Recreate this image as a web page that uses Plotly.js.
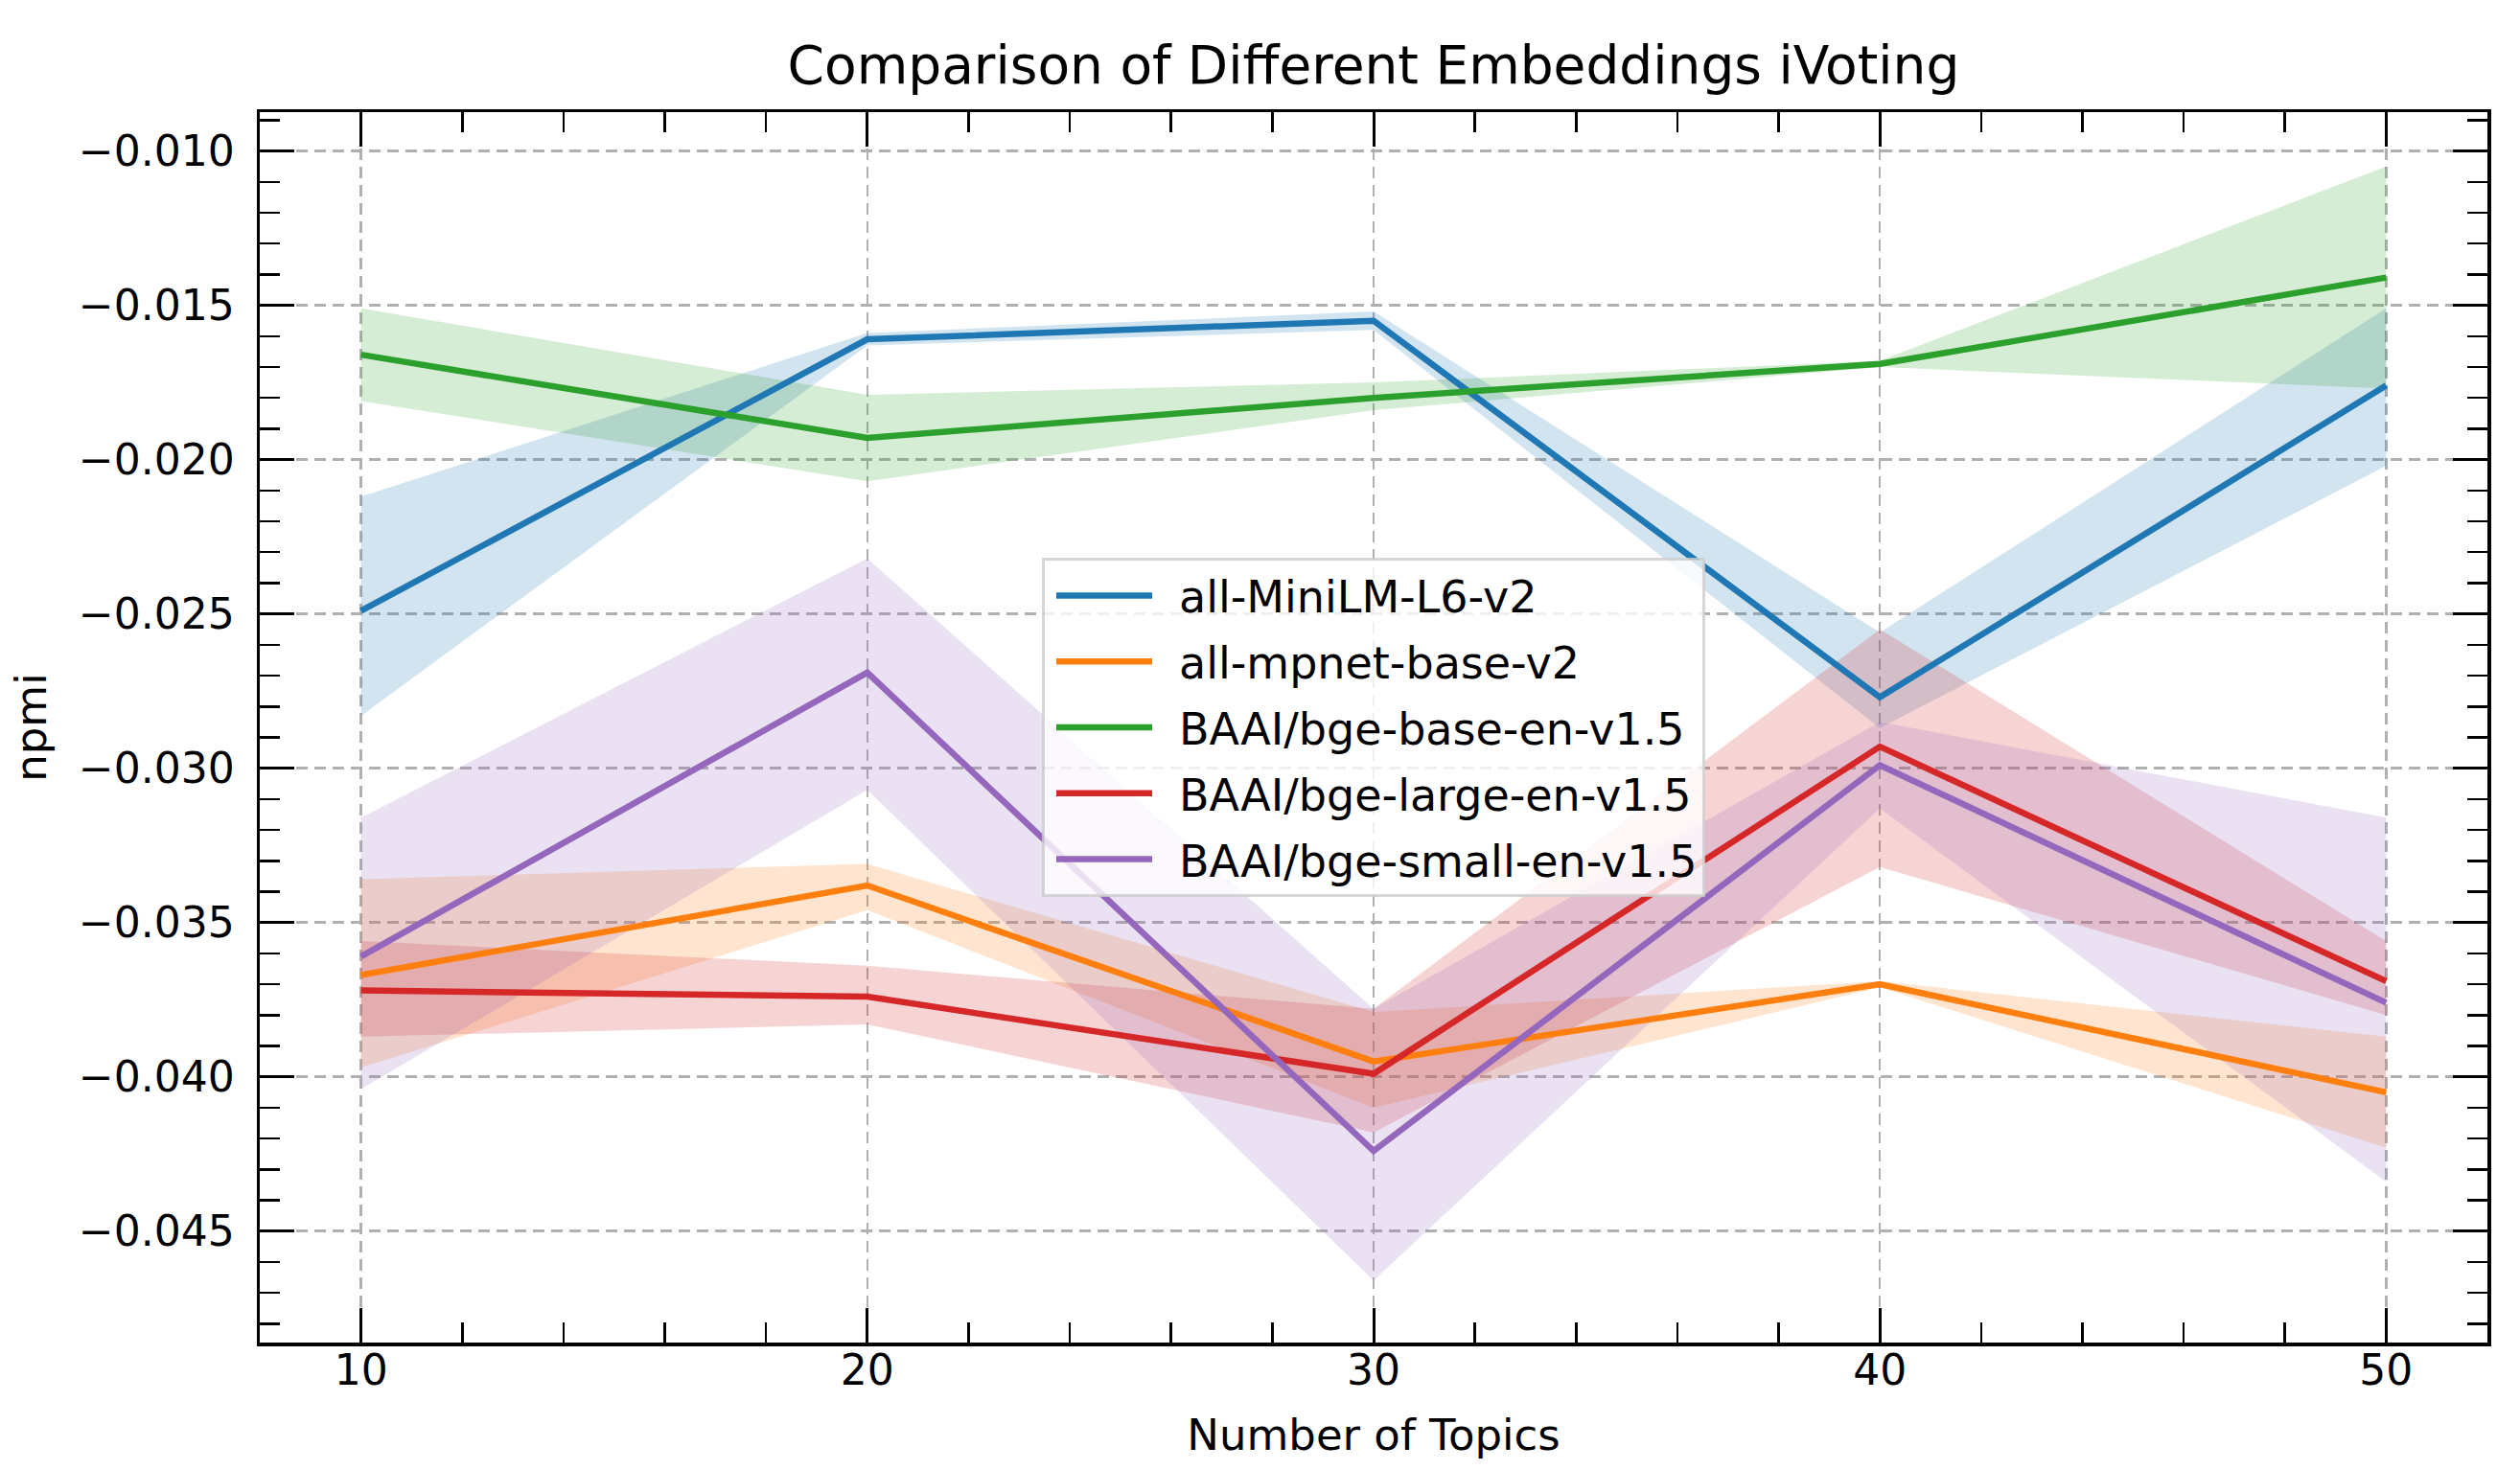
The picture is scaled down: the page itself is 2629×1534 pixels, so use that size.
<!DOCTYPE html>
<html>
<head>
<meta charset="utf-8">
<script src="https://cdn.plot.ly/plotly-3.0.1.min.js"></script>
<style>html,body{margin:0;padding:0;background:#fff;}#chart{width:2629px;height:1534px;}</style>
</head>
<body>
<div id="chart"></div>
<script>
// Number of topics (x)
const topics = [10, 20, 30, 40, 50];

// Series names (legend order)
const models = ["all-MiniLM-L6-v2", "all-mpnet-base-v2", "BAAI/bge-base-en-v1.5", "BAAI/bge-large-en-v1.5", "BAAI/bge-small-en-v1.5"];

// Mean npmi per model
const miniMean  = [-0.0249, -0.0161, -0.0155, -0.0277, -0.0176];
const mpnetMean = [-0.0367, -0.0338, -0.0395, -0.0370, -0.0405];
const baseMean  = [-0.0166, -0.0193, -0.0180, -0.0169, -0.0141];
const largeMean = [-0.0372, -0.0374, -0.0399, -0.0293, -0.0369];
const smallMean = [-0.0361, -0.0269, -0.0424, -0.0299, -0.0376];

// Upper band edges
const miniUpper  = [-0.0212, -0.0159, -0.0152, -0.0256, -0.0151];
const mpnetUpper = [-0.0336, -0.0331, -0.0379, -0.0369, -0.0387];
const baseUpper  = [-0.0151, -0.0179, -0.0175, -0.0168, -0.0105];
const largeUpper = [-0.0356, -0.0364, -0.0378, -0.0255, -0.0356];
const smallUpper = [-0.0316, -0.0232, -0.0378, -0.0285, -0.0316];

// Lower band edges
const miniLower  = [-0.0283, -0.0163, -0.0158, -0.0287, -0.0202];
const mpnetLower = [-0.0397, -0.0346, -0.0410, -0.0371, -0.0423];
const baseLower  = [-0.0181, -0.0207, -0.0184, -0.0170, -0.0177];
const largeLower = [-0.0387, -0.0383, -0.0418, -0.0332, -0.0380];
const smallLower = [-0.0404, -0.0307, -0.0466, -0.0313, -0.0434];

const means  = [miniMean, mpnetMean, baseMean, largeMean, smallMean];
const uppers = [miniUpper, mpnetUpper, baseUpper, largeUpper, smallUpper];
const lowers = [miniLower, mpnetLower, baseLower, largeLower, smallLower];

const colors = ["#1f77b4", "#ff7f0e", "#2ca02c", "#d62728", "#9467bd"];
const fills  = ["rgba(31,119,180,0.2)", "rgba(255,127,14,0.2)", "rgba(44,160,44,0.2)", "rgba(214,39,40,0.2)", "rgba(148,103,189,0.2)"];

const FONT = "DejaVu Sans, Liberation Sans, sans-serif";
const traces = [];
// Bands first (below all lines)
models.forEach((m, i) => {
  traces.push({
    x: topics.concat(topics.slice().reverse()),
    y: uppers[i].concat(lowers[i].slice().reverse()),
    type: "scatter", mode: "lines", fill: "toself",
    fillcolor: fills[i], line: {width: 0, color: fills[i]},
    showlegend: false, hoverinfo: "skip"
  });
});
models.forEach((m, i) => {
  traces.push({
    x: topics, y: means[i], name: "\u2002" + m, legendgroup: m,
    type: "scatter", mode: "lines",
    line: {color: colors[i], width: 6.5}
  });
});

const axisCommon = {
  ticks: "inside", ticklen: 36, tickwidth: 3, tickcolor: "#000",
  showline: true, linecolor: "#000", linewidth: 3.5, mirror: "allticks",
  showgrid: true, gridcolor: "#b0b0b0", gridwidth: 2.5, griddash: "12px,7px",
  zeroline: false,
  tickfont: {family: FONT, size: 44, color: "#000"}
};

const layout = {
  width: 2629, height: 1534,
  margin: {l: 271, r: 34, t: 117, b: 133, pad: 0},
  paper_bgcolor: "#fff", plot_bgcolor: "#fff",
  font: {family: FONT, color: "#000"},
  title: {text: "Comparison of Different Embeddings iVoting", font: {family: FONT, size: 55, color: "#000"},
          x: 0.5, xref: "paper", xanchor: "center", y: 1 - 68/1534, yref: "container", yanchor: "middle"},
  xaxis: Object.assign({}, axisCommon, {
    range: [8, 52], tick0: 0, dtick: 10,
    ticklabelstandoff: -12,
    minor: {dtick: 2, tick0: 0, ticks: "inside", ticklen: 21, tickwidth: 2.5, tickcolor: "#000", showgrid: false},
    title: {text: "Number of Topics", font: {family: FONT, size: 45, color: "#000"}, standoff: 28}
  }),
  yaxis: Object.assign({}, axisCommon, {
    range: [-0.04861, -0.00874], tick0: 0, dtick: 0.005, tickformat: ".3f",
    ticklabelstandoff: 14,
    minor: {dtick: 0.001, tick0: 0, ticks: "inside", ticklen: 21, tickwidth: 2.5, tickcolor: "#000", showgrid: false},
    title: {text: "npmi", font: {family: FONT, size: 45, color: "#000"}, standoff: 20}
  }),
  legend: {
    x: 0.5, y: 0.5, xanchor: "center", yanchor: "middle",
    font: {family: FONT, size: 46, color: "#000"},
    bgcolor: "rgba(255,255,255,0.8)", bordercolor: "rgba(204,204,204,0.8)", borderwidth: 3,
    itemwidth: 100, tracegroupgap: 6, indentation: 7
  },
  showlegend: true
};

Plotly.newPlot("chart", traces, layout, {displayModeBar: false, staticPlot: true});
</script>
</body>
</html>
